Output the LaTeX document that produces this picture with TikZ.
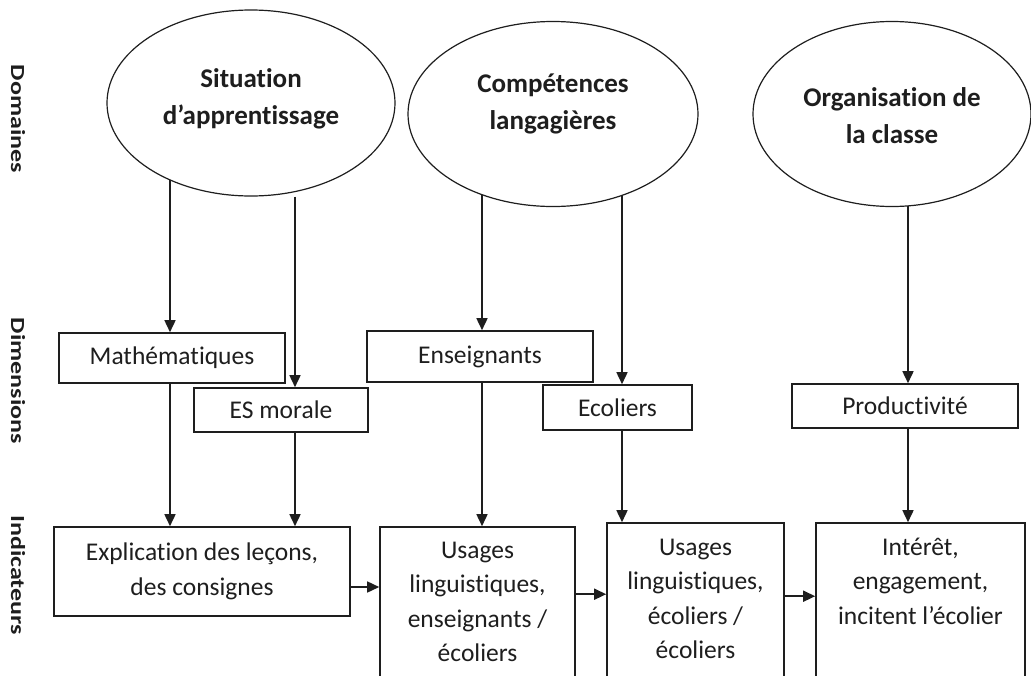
\documentclass[tikz,border=0pt]{standalone}
\usepackage{fontspec}
\usepackage{graphicx}
\setmainfont{Carlito}[RawFeature={-liga;-clig;-dlig;-calt}]
\usetikzlibrary{arrows.meta,backgrounds,shapes.geometric}
\definecolor{ink}{HTML}{1E1E1E}
\begin{document}
\begin{tikzpicture}[x=1pt,y=-1pt,
  dom/.style={ellipse,draw=ink,line width=1.2pt,fill=white,inner sep=0pt},
  domtxt/.style={align=center,inner sep=0pt,text=ink,font=\bfseries\fontsize{27}{37}\selectfont},
  dimbox/.style={rectangle,draw=ink,line width=1.6pt,fill=white,inner sep=0pt,text=ink,
    align=center,font=\fontsize{25.5}{34.5}\selectfont},
  indtxt/.style={align=center,inner sep=0pt,text=ink,anchor=north,font=\fontsize{25.5}{34.5}\selectfont},
  arr/.style={draw=ink,line width=1.6pt,-{Triangle[length=12pt,width=11pt]}},
  side/.style={rotate=-90,inner sep=0pt,text=ink,font=\bfseries\fontsize{20}{24}\selectfont}
]
\useasboundingbox (0,0) rectangle (1031,675);

% side labels
\node[side] (ldom) at (18,119) {\scalebox{1.3}[1]{Domaines}};
\node[side] (ldim) at (18,381) {\scalebox{1.3}[1]{Dimensions}};
\node[side] (lind) at (18,575) {\scalebox{1.3}[1]{Indicateurs}};

% domains
\node[dom,minimum width=288,minimum height=186,
  label={[domtxt,yshift=4.5pt]center:{Situation\\d’apprentissage}}] (e1) at (251,103) {};
\node[dom,minimum width=290,minimum height=185,
  label={[domtxt,yshift=10pt]center:{Compétences\\langagières}}] (e2) at (553,114) {};
\node[dom,minimum width=278,minimum height=185,
  label={[domtxt,yshift=-2pt]center:{Organisation de\\la classe}}] (e3) at (892,114) {};

% dimensions
\node[dimbox,minimum width=226,minimum height=50] (math) at (172,358) {Mathématiques};
\node[dimbox,minimum width=174,minimum height=44] (es) at (281,410) {ES morale};
\node[dimbox,minimum width=226,minimum height=51] (ens) at (480,356.5) {Enseignants};
\node[dimbox,minimum width=149,minimum height=45] (eco) at (617.5,407.5) {Ecoliers};
\node[dimbox,minimum width=226,minimum height=44] (prod) at (905,406) {Productivité};

% indicators
\node[dimbox,minimum width=296,minimum height=89] (expl) at (202,571.5) {Explication des leçons,\\des consignes};
\node[dimbox,minimum width=195,minimum height=190,
  label={[indtxt,yshift=-12pt]north:{\rule{0pt}{20pt}Usages\\linguistiques,\\enseignants /\\écoliers}}] (us1) at (477.5,622) {};
\node[dimbox,minimum width=177,minimum height=194,
  label={[indtxt,yshift=-13pt]north:{\rule{0pt}{20pt}Usages\\linguistiques,\\écoliers /\\écoliers}}] (us2) at (695.5,620) {};
\node[dimbox,minimum width=209,minimum height=194,
  label={[indtxt,yshift=-13pt]north:{\rule{0pt}{20pt}Intérêt,\\engagement,\\incitent l’écolier}}] (int) at (920.5,620) {};

% connectors
\begin{scope}[on background layer]
  \draw[arr] ([xshift=-2pt]math.north |- e1.center) -- ([xshift=-2pt]math.north);
  \draw[arr] ([xshift=14pt]es.north |- e1.south) -- ([xshift=14pt]es.north);
  \draw[arr] ([xshift=2pt]ens.north |- e2.center) -- ([xshift=2pt]ens.north);
  \draw[arr] ([xshift=4.5pt]eco.north |- e2.center) -- ([xshift=4.5pt]eco.north);
  \draw[arr] ([xshift=3pt]prod.north |- e3.center) -- ([xshift=3pt]prod.north);
\end{scope}
\draw[arr] ([xshift=-2pt]math.south) -- ([xshift=-2pt]math.south |- expl.north);
\draw[arr] ([xshift=14pt]es.south) -- ([xshift=14pt]es.south |- expl.north);
\draw[arr] ([xshift=2pt]ens.south) -- ([xshift=2pt]ens.south |- us1.north);
\draw[arr] ([xshift=4.5pt]eco.south) -- ([xshift=4.5pt]eco.south |- us2.north);
\draw[arr] ([xshift=3pt]prod.south) -- ([xshift=3pt]prod.south |- int.north);

\draw[arr] ([yshift=-15.5pt]expl.east) -- ([yshift=-15.5pt]expl.east -| us1.west);
\draw[arr] ([yshift=-68pt]us1.north east) -- ([yshift=-68pt]us1.north east -| us2.west);
\draw[arr] ([yshift=-74pt]us2.north east) -- ([yshift=-74pt]us2.north east -| int.west);
\end{tikzpicture}
\end{document}
